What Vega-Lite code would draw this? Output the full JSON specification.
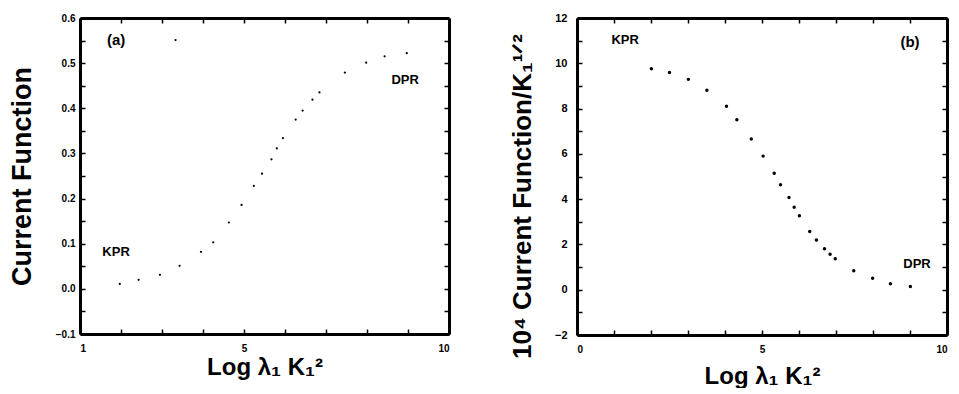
{
  "$schema": "https://vega.github.io/schema/vega-lite/v6.json",
  "background": "white",
  "padding": {"left": 8, "top": 12, "right": 5, "bottom": 0},
  "spacing": 59,
  "config": {
    "view": {"stroke": null},
    "font": "Liberation Sans",
    "axis": {
      "grid": false,
      "domainColor": "black", "domainWidth": 3,
      "tickColor": "black", "tickSize": 5, "tickWidth": 1.5,
      "labelFont": "Liberation Sans", "labelFontWeight": "bold", "labelFontSize": 10, "labelColor": "black",
      "titleFont": "Liberation Sans", "titleFontWeight": "bold", "titleFontSize": 24, "titleColor": "black"
    }
  },
  "datasets": {
    "a": [
      {"x": 1.97, "y": 0.011}, {"x": 2.43, "y": 0.020}, {"x": 2.95, "y": 0.031}, {"x": 3.43, "y": 0.051},
      {"x": 3.95, "y": 0.082}, {"x": 4.25, "y": 0.103}, {"x": 4.63, "y": 0.147}, {"x": 4.94, "y": 0.186},
      {"x": 5.24, "y": 0.228}, {"x": 5.44, "y": 0.255}, {"x": 5.67, "y": 0.287}, {"x": 5.80, "y": 0.311},
      {"x": 5.95, "y": 0.334}, {"x": 6.26, "y": 0.375}, {"x": 6.43, "y": 0.395}, {"x": 6.67, "y": 0.419},
      {"x": 6.84, "y": 0.435}, {"x": 7.46, "y": 0.479}, {"x": 7.98, "y": 0.501}, {"x": 8.43, "y": 0.515},
      {"x": 8.97, "y": 0.522}, {"x": 3.33, "y": 0.551}
    ],
    "aText": [
      {"x": 1.88, "y": 0.551, "t": "(a)", "s": 15},
      {"x": 1.88, "y": 0.082, "t": "KPR", "s": 13},
      {"x": 8.93, "y": 0.463, "t": "DPR", "s": 13}
    ],
    "b": [
      {"x": 2.01, "y": 9.76}, {"x": 2.50, "y": 9.59}, {"x": 3.01, "y": 9.29}, {"x": 3.51, "y": 8.81},
      {"x": 4.04, "y": 8.10}, {"x": 4.32, "y": 7.51}, {"x": 4.71, "y": 6.66}, {"x": 5.03, "y": 5.90},
      {"x": 5.33, "y": 5.14}, {"x": 5.50, "y": 4.64}, {"x": 5.73, "y": 4.07}, {"x": 5.87, "y": 3.64},
      {"x": 6.01, "y": 3.27}, {"x": 6.29, "y": 2.57}, {"x": 6.47, "y": 2.20}, {"x": 6.69, "y": 1.81},
      {"x": 6.84, "y": 1.57}, {"x": 6.98, "y": 1.37}, {"x": 7.48, "y": 0.84}, {"x": 7.99, "y": 0.51},
      {"x": 8.47, "y": 0.26}, {"x": 9.01, "y": 0.14}
    ],
    "bText": [
      {"x": 1.30, "y": 11.05, "t": "KPR", "s": 13},
      {"x": 9.0, "y": 10.92, "t": "(b)", "s": 15},
      {"x": 9.19, "y": 1.14, "t": "DPR", "s": 13}
    ]
  },
  "hconcat": [
    {
      "width": 369, "height": 316,
      "resolve": {"axis": {"x": "independent", "y": "independent"}},
      "layer": [
        {
          "data": {"name": "a"},
          "mark": {"type": "circle", "color": "black", "opacity": 1, "size": 5},
          "encoding": {
            "x": {"field": "x", "type": "quantitative", "scale": {"domain": [1, 10], "nice": false, "zero": false},
              "axis": {"orient": "bottom", "domain": true, "ticks": false, "labels": true, "values": [1, 5, 10], "title": "Log λ₁ K₁²", "labelPadding": 9, "titlePadding": 2}},
            "y": {"field": "y", "type": "quantitative", "scale": {"domain": [-0.1, 0.6], "nice": false, "zero": false},
              "axis": {"orient": "left", "domain": true, "ticks": false, "labels": true, "values": [-0.1, 0, 0.1, 0.2, 0.3, 0.4, 0.5, 0.6], "format": ".1f", "title": "Current Function", "titleFontSize": 27, "labelPadding": 5, "titlePadding": 19}}
          }
        },
        {
          "data": {"name": "a"},
          "mark": {"type": "circle", "opacity": 0},
          "encoding": {
            "x": {"field": "x", "type": "quantitative", "axis": {"orient": "top", "domain": true, "ticks": false, "labels": false, "title": null}},
            "y": {"field": "y", "type": "quantitative", "axis": {"orient": "right", "domain": true, "ticks": false, "labels": false, "title": null}}
          }
        },
        {
          "data": {"name": "a"},
          "mark": {"type": "circle", "opacity": 0},
          "encoding": {
            "x": {"field": "x", "type": "quantitative", "axis": {"orient": "bottom", "domain": false, "ticks": true, "labels": false, "title": null, "offset": -5, "values": [1, 2, 3, 4, 5, 6, 7, 8, 9, 10]}},
            "y": {"field": "y", "type": "quantitative", "axis": {"orient": "left", "domain": false, "ticks": true, "labels": false, "title": null, "offset": -5, "values": [-0.1, -0.05, 0, 0.05, 0.1, 0.15, 0.2, 0.25, 0.3, 0.35, 0.4, 0.45, 0.5, 0.55, 0.6]}}
          }
        },
        {
          "data": {"name": "a"},
          "mark": {"type": "circle", "opacity": 0},
          "encoding": {
            "x": {"field": "x", "type": "quantitative", "axis": {"orient": "top", "domain": false, "ticks": true, "labels": false, "title": null, "offset": -5, "values": [1, 2, 3, 4, 5, 6, 7, 8, 9, 10]}},
            "y": {"field": "y", "type": "quantitative", "axis": {"orient": "right", "domain": false, "ticks": true, "labels": false, "title": null, "offset": -5, "values": [-0.1, -0.05, 0, 0.05, 0.1, 0.15, 0.2, 0.25, 0.3, 0.35, 0.4, 0.45, 0.5, 0.55, 0.6]}}
          }
        },
        {
          "data": {"name": "aText"},
          "mark": {"type": "text", "fontWeight": "bold", "color": "black", "font": "Liberation Sans"},
          "encoding": {
            "x": {"field": "x", "type": "quantitative", "axis": null},
            "y": {"field": "y", "type": "quantitative", "axis": null},
            "text": {"field": "t"},
            "size": {"field": "s", "type": "quantitative", "scale": null}
          }
        }
      ]
    },
    {
      "width": 370, "height": 317,
      "resolve": {"axis": {"x": "independent", "y": "independent"}},
      "layer": [
        {
          "data": {"name": "b"},
          "mark": {"type": "circle", "color": "black", "opacity": 1, "size": 12},
          "encoding": {
            "x": {"field": "x", "type": "quantitative", "scale": {"domain": [0, 10], "nice": false},
              "axis": {"orient": "bottom", "domain": true, "ticks": false, "labels": true, "values": [0, 5, 10], "title": "Log λ₁ K₁²", "labelPadding": 9, "titlePadding": 10}},
            "y": {"field": "y", "type": "quantitative", "scale": {"domain": [-2, 12], "nice": false, "zero": false},
              "axis": {"orient": "left", "domain": true, "ticks": false, "labels": true, "values": [-2, 0, 2, 4, 6, 8, 10, 12], "labelFontSize": 11, "title": "10⁴ Current Function/K₁¹ᐟ²", "titleFontSize": 26, "titleY": 178, "labelPadding": 10, "titlePadding": 19}}
          }
        },
        {
          "data": {"name": "b"},
          "mark": {"type": "circle", "opacity": 0},
          "encoding": {
            "x": {"field": "x", "type": "quantitative", "axis": {"orient": "top", "domain": true, "ticks": false, "labels": false, "title": null}},
            "y": {"field": "y", "type": "quantitative", "axis": {"orient": "right", "domain": true, "ticks": false, "labels": false, "title": null}}
          }
        },
        {
          "data": {"name": "b"},
          "mark": {"type": "circle", "opacity": 0},
          "encoding": {
            "x": {"field": "x", "type": "quantitative", "axis": {"orient": "bottom", "domain": false, "ticks": true, "labels": false, "title": null, "offset": -5, "values": [0, 1, 2, 3, 4, 5, 6, 7, 8, 9, 10]}},
            "y": {"field": "y", "type": "quantitative", "axis": {"orient": "left", "domain": false, "ticks": true, "labels": false, "title": null, "offset": -5, "values": [-2, -1, 0, 1, 2, 3, 4, 5, 6, 7, 8, 9, 10, 11, 12]}}
          }
        },
        {
          "data": {"name": "b"},
          "mark": {"type": "circle", "opacity": 0},
          "encoding": {
            "x": {"field": "x", "type": "quantitative", "axis": {"orient": "top", "domain": false, "ticks": true, "labels": false, "title": null, "offset": -5, "values": [0, 1, 2, 3, 4, 5, 6, 7, 8, 9, 10]}},
            "y": {"field": "y", "type": "quantitative", "axis": {"orient": "right", "domain": false, "ticks": true, "labels": false, "title": null, "offset": -5, "values": [-2, -1, 0, 1, 2, 3, 4, 5, 6, 7, 8, 9, 10, 11, 12]}}
          }
        },
        {
          "data": {"name": "bText"},
          "mark": {"type": "text", "fontWeight": "bold", "color": "black", "font": "Liberation Sans"},
          "encoding": {
            "x": {"field": "x", "type": "quantitative", "axis": null},
            "y": {"field": "y", "type": "quantitative", "axis": null},
            "text": {"field": "t"},
            "size": {"field": "s", "type": "quantitative", "scale": null}
          }
        }
      ]
    }
  ]
}
